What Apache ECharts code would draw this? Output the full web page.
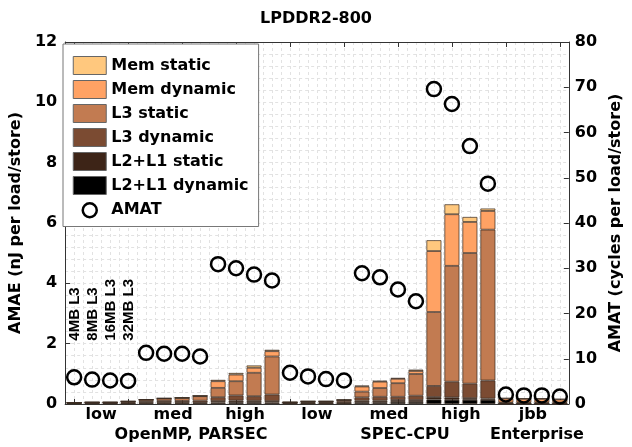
<!DOCTYPE html>
<html>
<head>
<meta charset="utf-8">
<script src="https://cdn.jsdelivr.net/npm/echarts@6/dist/echarts.min.js"></script>
<style>html,body{margin:0;padding:0;background:#fff}#c{width:632px;height:447px}</style>
</head>
<body>
<div id="c"></div>
<script>
const categories = ['4MB','8MB','16MB','32MB','4MB','8MB','16MB','32MB','4MB','8MB','16MB','32MB',
  '4MB','8MB','16MB','32MB','4MB','8MB','16MB','32MB','4MB','8MB','16MB','32MB','4MB','8MB','16MB','32MB'];
const loadLabels = ['low','med','high','low','med','high','jbb'];
const groupLabels = ['OpenMP, PARSEC','SPEC-CPU','Enterprise'];
const sizeLabels = ['4MB L3','8MB L3','16MB L3','32MB L3'];

const l2l1Dynamic = [0.02,0.02,0.02,0.02, 0.03,0.03,0.03,0.03, 0.05,0.06,0.06,0.05, 0.02,0.02,0.02,0.02, 0.06,0.06,0.07,0.07, 0.15,0.14,0.14,0.14, 0.01,0.01,0.01,0.01];
const l2l1Static  = [0.01,0.01,0.01,0.01, 0.02,0.02,0.02,0.02, 0.045,0.055,0.046,0.045, 0.01,0.01,0.01,0.01, 0.05,0.05,0.06,0.06, 0.08,0.08,0.055,0.04, 0.01,0.01,0.01,0.01];
const l3Dynamic   = [0.01,0.015,0.015,0.02, 0.04,0.05,0.05,0.06, 0.13,0.17,0.153,0.22, 0.015,0.03,0.03,0.04, 0.11,0.13,0.11,0.145, 0.37,0.52,0.48,0.6, 0.01,0.01,0.01,0.01];
const l3Static    = [0.005,0.01,0.01,0.035, 0.05,0.08,0.1,0.15, 0.31,0.47,0.776,1.26, 0.01,0.025,0.025,0.06, 0.19,0.29,0.45,0.72, 2.45,3.84,4.33,5.0, 0.02,0.02,0.02,0.02];
const memDynamic  = [0.003,0.003,0.003,0.003, 0.008,0.008,0.008,0.01, 0.22,0.22,0.166,0.176, 0.004,0.004,0.004,0.005, 0.17,0.21,0.145,0.1, 2.02,1.71,1.03,0.62, 0.13,0.12,0.12,0.10];
const memStatic   = [0.002,0.002,0.002,0.002, 0.002,0.002,0.002,0.002, 0.045,0.055,0.077,0.046, 0.002,0.002,0.002,0.003, 0.03,0.03,0.03,0.045, 0.36,0.33,0.166,0.08, 0.02,0.02,0.02,0.02];
const amat = [5.9,5.4,5.2,5.1, 11.3,11.1,11.1,10.5, 30.9,30.0,28.6,27.3, 6.9,6.1,5.5,5.2, 28.9,28.0,25.3,22.7, 69.6,66.3,57.0,48.7, 2.1,1.9,1.9,1.65];

const FONT = 'DejaVu Sans';
const edge = 'rgba(60,45,35,0.9)';
function barSeries(name, data, color){
  return {name, type:'bar', stack:'e', data, barWidth:15, xAxisIndex:0, yAxisIndex:0,
    itemStyle:{color, borderColor:edge, borderWidth:0.8, borderRadius:0, opacity:1}, emphasis:{disabled:true}};
}
const circleIcon = 'path://M0,0L0,0M33,18L33,18M23.5,9A7,7,0,1,1,9.5,9A7,7,0,1,1,23.5,9Z';
const legendRect = {borderColor:'#666', borderWidth:1};
const option = {
  animation:false,
  backgroundColor:'#fff',
  title:{text:'LPDDR2-800', left:'center', top:6, textStyle:{fontFamily:FONT, fontWeight:'bold', fontSize:16, color:'#000'}},
  grid:{left:62, right:53, top:42, bottom:43},
  legend:{
    orient:'vertical', left:63, top:44, itemWidth:33, itemHeight:18, itemGap:5,
    padding:[12,10,6,9], backgroundColor:'#fff', borderColor:'#777', borderWidth:1,
    textStyle:{fontFamily:FONT, fontWeight:'bold', fontSize:16, color:'#000', lineHeight:18},
    data:[{name:'Mem static', icon:'rect', itemStyle:legendRect},{name:'Mem dynamic', icon:'rect', itemStyle:legendRect},
      {name:'L3 static', icon:'rect', itemStyle:legendRect},{name:'L3 dynamic', icon:'rect', itemStyle:legendRect},
      {name:'L2+L1 static', icon:'rect', itemStyle:legendRect},{name:'L2+L1 dynamic', icon:'rect', itemStyle:legendRect},
      {name:'AMAT', icon:circleIcon, itemStyle:{color:'rgba(0,0,0,0)', borderColor:'#000', borderWidth:2.5, opacity:1}}]
  },
  xAxis:[
    {type:'category', data:categories, position:'bottom',
      axisLine:{lineStyle:{color:'#333', width:1}},
      axisTick:{show:true, inside:true, alignWithLabel:true, length:5, lineStyle:{color:'#333'}},
      axisLabel:{show:false}, splitLine:{show:false}},
    {type:'category', data:loadLabels, position:'bottom',
      axisLine:{show:false}, axisTick:{show:false},
      axisLabel:{margin:3, fontFamily:FONT, fontWeight:'bold', fontSize:16, color:'#000'}},
    {type:'category', data:categories, position:'top',
      axisLine:{lineStyle:{color:'#333', width:1}},
      axisTick:{show:true, inside:true, alignWithLabel:true, length:5, lineStyle:{color:'#333'}},
      axisLabel:{show:false}},
    {type:'value', min:0, max:28, interval:0.5, position:'top',
      axisLine:{show:false}, axisTick:{show:false}, axisLabel:{show:false},
      splitLine:{show:true, lineStyle:{color:'#e2e2e2', type:[3,3], width:1}}}
  ],
  yAxis:[
    {type:'value', min:0, max:12, interval:2, position:'left',
      name:'AMAE (nJ per load/store)', nameLocation:'middle', nameGap:30,
      nameTextStyle:{fontFamily:FONT, fontWeight:'bold', fontSize:16, color:'#000'},
      axisLine:{show:true, lineStyle:{color:'#333'}},
      axisTick:{show:true, inside:true, length:5, lineStyle:{color:'#333'}},
      axisLabel:{margin:8, fontFamily:FONT, fontWeight:'bold', fontSize:16, color:'#000'},
      splitLine:{show:true, lineStyle:{color:'#e2e2e2', type:[3,3]}},
      minorTick:{show:false, splitNumber:5},
      minorSplitLine:{show:true, lineStyle:{color:'#e2e2e2', type:[3,3]}}},
    {type:'value', min:0, max:80, interval:10, position:'right',
      name:'AMAT (cycles per load/store)', nameLocation:'middle', nameGap:22, nameRotate:90,
      nameTextStyle:{fontFamily:FONT, fontWeight:'bold', fontSize:16, color:'#000', verticalAlign:'top'},
      axisLine:{show:true, lineStyle:{color:'#333'}},
      axisTick:{show:true, inside:true, length:5, lineStyle:{color:'#333'}},
      axisLabel:{margin:6, fontFamily:FONT, fontWeight:'bold', fontSize:16, color:'#000'},
      splitLine:{show:false}}
  ],
  series:[
    barSeries('L2+L1 dynamic', l2l1Dynamic, '#000000'),
    barSeries('L2+L1 static', l2l1Static, '#3d2417'),
    barSeries('L3 dynamic', l3Dynamic, '#7b4b32'),
    barSeries('L3 static', l3Static, '#c27b51'),
    barSeries('Mem dynamic', memDynamic, '#ffa264'),
    barSeries('Mem static', memStatic, '#ffc87e'),
    {name:'AMAT', type:'scatter', xAxisIndex:0, yAxisIndex:1, data:amat, symbol:'circle', symbolSize:14, z:5,
      itemStyle:{color:'rgba(0,0,0,0)', borderColor:'#000', borderWidth:2.5, opacity:1}, emphasis:{disabled:true}}
  ]
};
const chart = echarts.init(document.getElementById('c'), null, {renderer:'canvas'});
chart.setOption(option);

const graphics = [];
sizeLabels.forEach((t,i)=>{
  const p = chart.convertToPixel({xAxisIndex:0, yAxisIndex:0}, [i, 2.1]);
  graphics.push({type:'text', x:p[0]+1, y:p[1], rotation:Math.PI/2, z:10,
    style:{text:t, textAlign:'left', textVerticalAlign:'middle', font:'bold 15px "Liberation Sans"', fill:'#000'}});
});
const groupX = [191, 405, 537];
groupLabels.forEach((t,i)=>{
  graphics.push({type:'text', x:groupX[i], y:435, z:10,
    style:{text:t, textAlign:'center', textVerticalAlign:'middle', font:'bold 16px "DejaVu Sans"', fill:'#000'}});
});
chart.setOption({graphic:graphics});
</script>
</body>
</html>
